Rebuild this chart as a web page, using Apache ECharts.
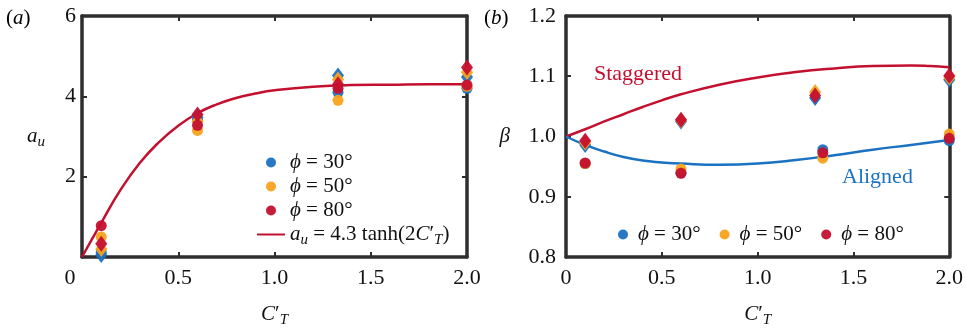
<!DOCTYPE html>
<html>
<head>
<meta charset="utf-8">
<script src="https://cdn.jsdelivr.net/npm/echarts@6/dist/echarts.min.js"></script>
<style>html,body{margin:0;padding:0;background:#fff}#c{width:966px;height:333px}</style>
</head>
<body>
<div id="c"></div>
<script>
// ---------- data ----------
const xTickLabels = ['0', '0.5', '1.0', '1.5', '2.0'];
const yTickLabelsA = ['', '2', '4', '6'];
const yTickLabelsB = ['0.8', '0.9', '1.0', '1.1', '1.2'];

// panel (a): a_u vs C'_T  (circles = aligned, diamonds = staggered)
const ctA = [0.1, 0.6, 1.33, 2.0];
const auAligned30 = [0.12, 3.42, 4.10, 4.20];
const auAligned50 = [0.50, 3.15, 3.90, 4.25];
const auAligned80 = [0.78, 3.28, 4.20, 4.28];
const auStag30 = [0.05, 3.48, 4.52, 4.48];
const auStag50 = [0.20, 3.38, 4.42, 4.60];
const auStag80 = [0.33, 3.55, 4.30, 4.72];
// fitted curve a_u = 4.3 tanh(2C'_T)
const fitX = [0, 0.1, 0.2, 0.3, 0.4, 0.5, 0.6, 0.7, 0.8, 0.9, 1.0, 1.2, 1.4, 1.6, 1.8, 2.0];
const fitY = [0, 0.85, 1.67, 2.34, 2.86, 3.27, 3.58, 3.80, 3.96, 4.07, 4.15, 4.24, 4.28, 4.29, 4.30, 4.30];

// panel (b): beta vs C'_T
const ctBStag = [0.1, 0.6, 1.3, 2.0];
const ctBAlig = [0.1, 0.6, 1.34, 2.0];
const betaStag30 = [0.986, 1.025, 1.064, 1.094];
const betaStag50 = [0.990, 1.027, 1.074, 1.098];
const betaStag80 = [0.993, 1.028, 1.068, 1.101];
const betaAlig30 = [0.955, 0.940, 0.978, 0.993];
const betaAlig50 = [0.955, 0.946, 0.964, 1.004];
const betaAlig80 = [0.956, 0.939, 0.973, 0.997];
const curveX = [0, 0.1, 0.2, 0.3, 0.4, 0.5, 0.6, 0.8, 1.0, 1.2, 1.4, 1.6, 1.8, 1.9, 2.0];
const stagCurve = [1.0, 1.012, 1.025, 1.037, 1.049, 1.060, 1.070, 1.086, 1.098, 1.107, 1.113, 1.117, 1.118, 1.117, 1.115];
const aligCurve = [1.0, 0.986, 0.975, 0.966, 0.960, 0.957, 0.955, 0.953, 0.955, 0.961, 0.969, 0.978, 0.986, 0.990, 0.994];

// ---------- style ----------
const FONT = 'Liberation Serif';
const BLUE = '#1b72c2', ORANGE = '#f8a21c', RED = '#c4102f';
const FRAME = '#2e2e2e';
const TICK_FS = 22;

const zip = (xs, ys) => xs.map((x, i) => [x, ys[i]]);
const rich = {
  r: { fontFamily: FONT, fontSize: 21, color: '#111' },
  i: { fontFamily: FONT, fontSize: 21, fontStyle: 'italic', color: '#111' },
  sub: { fontFamily: FONT, fontSize: 15, fontStyle: 'italic', color: '#111', padding: [12, 0, 0, 0] }
};
const phi = d => '{i|\u03D5}{r| = ' + d + '\u00B0}';
const ctName = '{i|C}{r|\u2032}{sub|T}';

const legendNames = {
  a30: phi(30), a50: phi(50), a80: phi(80),
  fitA: '{i|a}{sub|u}{r| = 4.3 tanh(2}{i|C}{r|\u2032}{sub|T}{r|)}',
  b30: phi(30), b50: phi(50), b80: phi(80)
};

const lineFrame = { show: true, onZero: false, lineStyle: { color: FRAME, width: 3.5 } };
const tickIn = { show: true, inside: true, length: 5, lineStyle: { color: FRAME, width: 2 } };

function xAxes(grid) {
  const base = {
    type: 'value', gridIndex: grid, min: 0, max: 2, interval: 0.5,
    axisLine: lineFrame, splitLine: { show: false }, axisTick: tickIn
  };
  return [
    Object.assign({}, base, {
      position: 'bottom',
      axisLabel: {
        show: true, margin: 10, fontFamily: FONT, fontSize: TICK_FS, color: '#111',
        formatter: (v) => {
          const s = xTickLabels[Math.round(v / 0.5)];
          return (grid === 0 && v === 0) ? '{z|' + s + '}' : s;
        },
        rich: { z: { fontFamily: FONT, fontSize: TICK_FS, color: '#111', padding: [0, 24, 0, 0] } }
      },
      name: ctName, nameLocation: 'middle', nameGap: 44,
      nameTextStyle: { rich: rich }
    }),
    Object.assign({}, base, { position: 'top', axisLabel: { show: false } })
  ];
}
function yAxes(grid, min, max, interval, labels, name, gap) {
  const base = {
    type: 'value', gridIndex: grid, min: min, max: max, interval: interval,
    axisLine: lineFrame, splitLine: { show: false }, axisTick: tickIn
  };
  return [
    Object.assign({}, base, {
      position: 'left',
      axisLabel: {
        show: true, margin: grid === 0 ? 6 : 10, fontFamily: FONT, fontSize: TICK_FS, color: '#111',
        formatter: (v) => labels[Math.round((v - min) / interval)]
      },
      name: name, nameLocation: 'middle', nameRotate: 0, nameGap: gap,
      nameTextStyle: { rich: rich }
    }),
    Object.assign({}, base, { position: 'right', axisLabel: { show: false } })
  ];
}

function pts(name, xs, ys, color, symbol, xi, yi) {
  return {
    type: 'scatter', name: name, xAxisIndex: xi, yAxisIndex: yi,
    data: zip(xs, ys), symbol: symbol,
    symbolSize: symbol === 'diamond' ? [12, 16] : 11,
    itemStyle: { color: color, opacity: 0.95 }, z: 3
  };
}
function curve(name, xs, ys, color, xi, yi) {
  return {
    type: 'line', name: name, xAxisIndex: xi, yAxisIndex: yi,
    data: zip(xs, ys), smooth: true, symbol: 'none', showSymbol: false,
    lineStyle: { color: color, width: 2.5 }, itemStyle: { color: color }, z: 2
  };
}

const option = {
  animation: false,
  backgroundColor: '#fff',
  grid: [
    { left: 82, right: 499, top: 16, bottom: 73 },
    { left: 566, right: 15, top: 16, bottom: 73 }
  ],
  xAxis: [].concat(xAxes(0), xAxes(1)),
  yAxis: [].concat(
    yAxes(0, 0, 6, 2, yTickLabelsA, '{i|a}{sub|u}', 37),
    yAxes(1, 0.8, 1.2, 0.1, yTickLabelsB, '{i|\u03B2}', 56)
  ),
  legend: [
    {
      orient: 'vertical', left: 256, top: 152, padding: 0, itemGap: 3,
      itemWidth: 28, itemHeight: 10, selectedMode: false,
      data: [
        { name: 'a30', icon: 'circle' }, { name: 'a50', icon: 'circle' }, { name: 'a80', icon: 'circle' },
        { name: 'fitA', itemStyle: { opacity: 0 } }
      ],
      formatter: n => legendNames[n],
      textStyle: { fontFamily: FONT, fontSize: 21, color: '#111', rich: rich }
    },
    {
      orient: 'horizontal', left: 618, top: 224, padding: 0, itemGap: 19,
      itemWidth: 20, itemHeight: 10, selectedMode: false,
      data: [{ name: 'b30', icon: 'circle' }, { name: 'b50', icon: 'circle' }, { name: 'b80', icon: 'circle' }],
      formatter: n => legendNames[n],
      textStyle: { fontFamily: FONT, fontSize: 21, color: '#111', rich: rich }
    }
  ],
  series: [
    curve('fitA', fitX, fitY, RED, 0, 0),
    pts('a30', ctA, auAligned30, BLUE, 'circle', 0, 0),
    pts('a30s', ctA, auStag30, BLUE, 'diamond', 0, 0),
    pts('a50', ctA, auAligned50, ORANGE, 'circle', 0, 0),
    pts('a50s', ctA, auStag50, ORANGE, 'diamond', 0, 0),
    pts('a80', ctA, auAligned80, RED, 'circle', 0, 0),
    pts('a80s', ctA, auStag80, RED, 'diamond', 0, 0),

    curve('stagB', curveX, stagCurve, RED, 2, 2),
    curve('aligB', curveX, aligCurve, BLUE, 2, 2),
    pts('b30', ctBAlig, betaAlig30, BLUE, 'circle', 2, 2),
    pts('b30s', ctBStag, betaStag30, BLUE, 'diamond', 2, 2),
    pts('b50', ctBAlig, betaAlig50, ORANGE, 'circle', 2, 2),
    pts('b50s', ctBStag, betaStag50, ORANGE, 'diamond', 2, 2),
    pts('b80', ctBAlig, betaAlig80, RED, 'circle', 2, 2),
    pts('b80s', ctBStag, betaStag80, RED, 'diamond', 2, 2)
  ],
  graphic: [
    { type: 'text', left: 6, top: 8, style: { text: '{r|(}{i|a}{r|)}', rich: rich } },
    { type: 'text', left: 484, top: 8, style: { text: '{r|(}{i|b}{r|)}', rich: rich } },
    { type: 'text', left: 594, top: 63, style: { text: 'Staggered', fontFamily: FONT, fontSize: 22, fill: RED } },
    { type: 'text', left: 842, top: 166, style: { text: 'Aligned', fontFamily: FONT, fontSize: 22, fill: BLUE } }
  ]
};

const chart = echarts.init(document.getElementById('c'), null, { renderer: 'canvas' });
chart.setOption(option);
</script>
</body>
</html>
